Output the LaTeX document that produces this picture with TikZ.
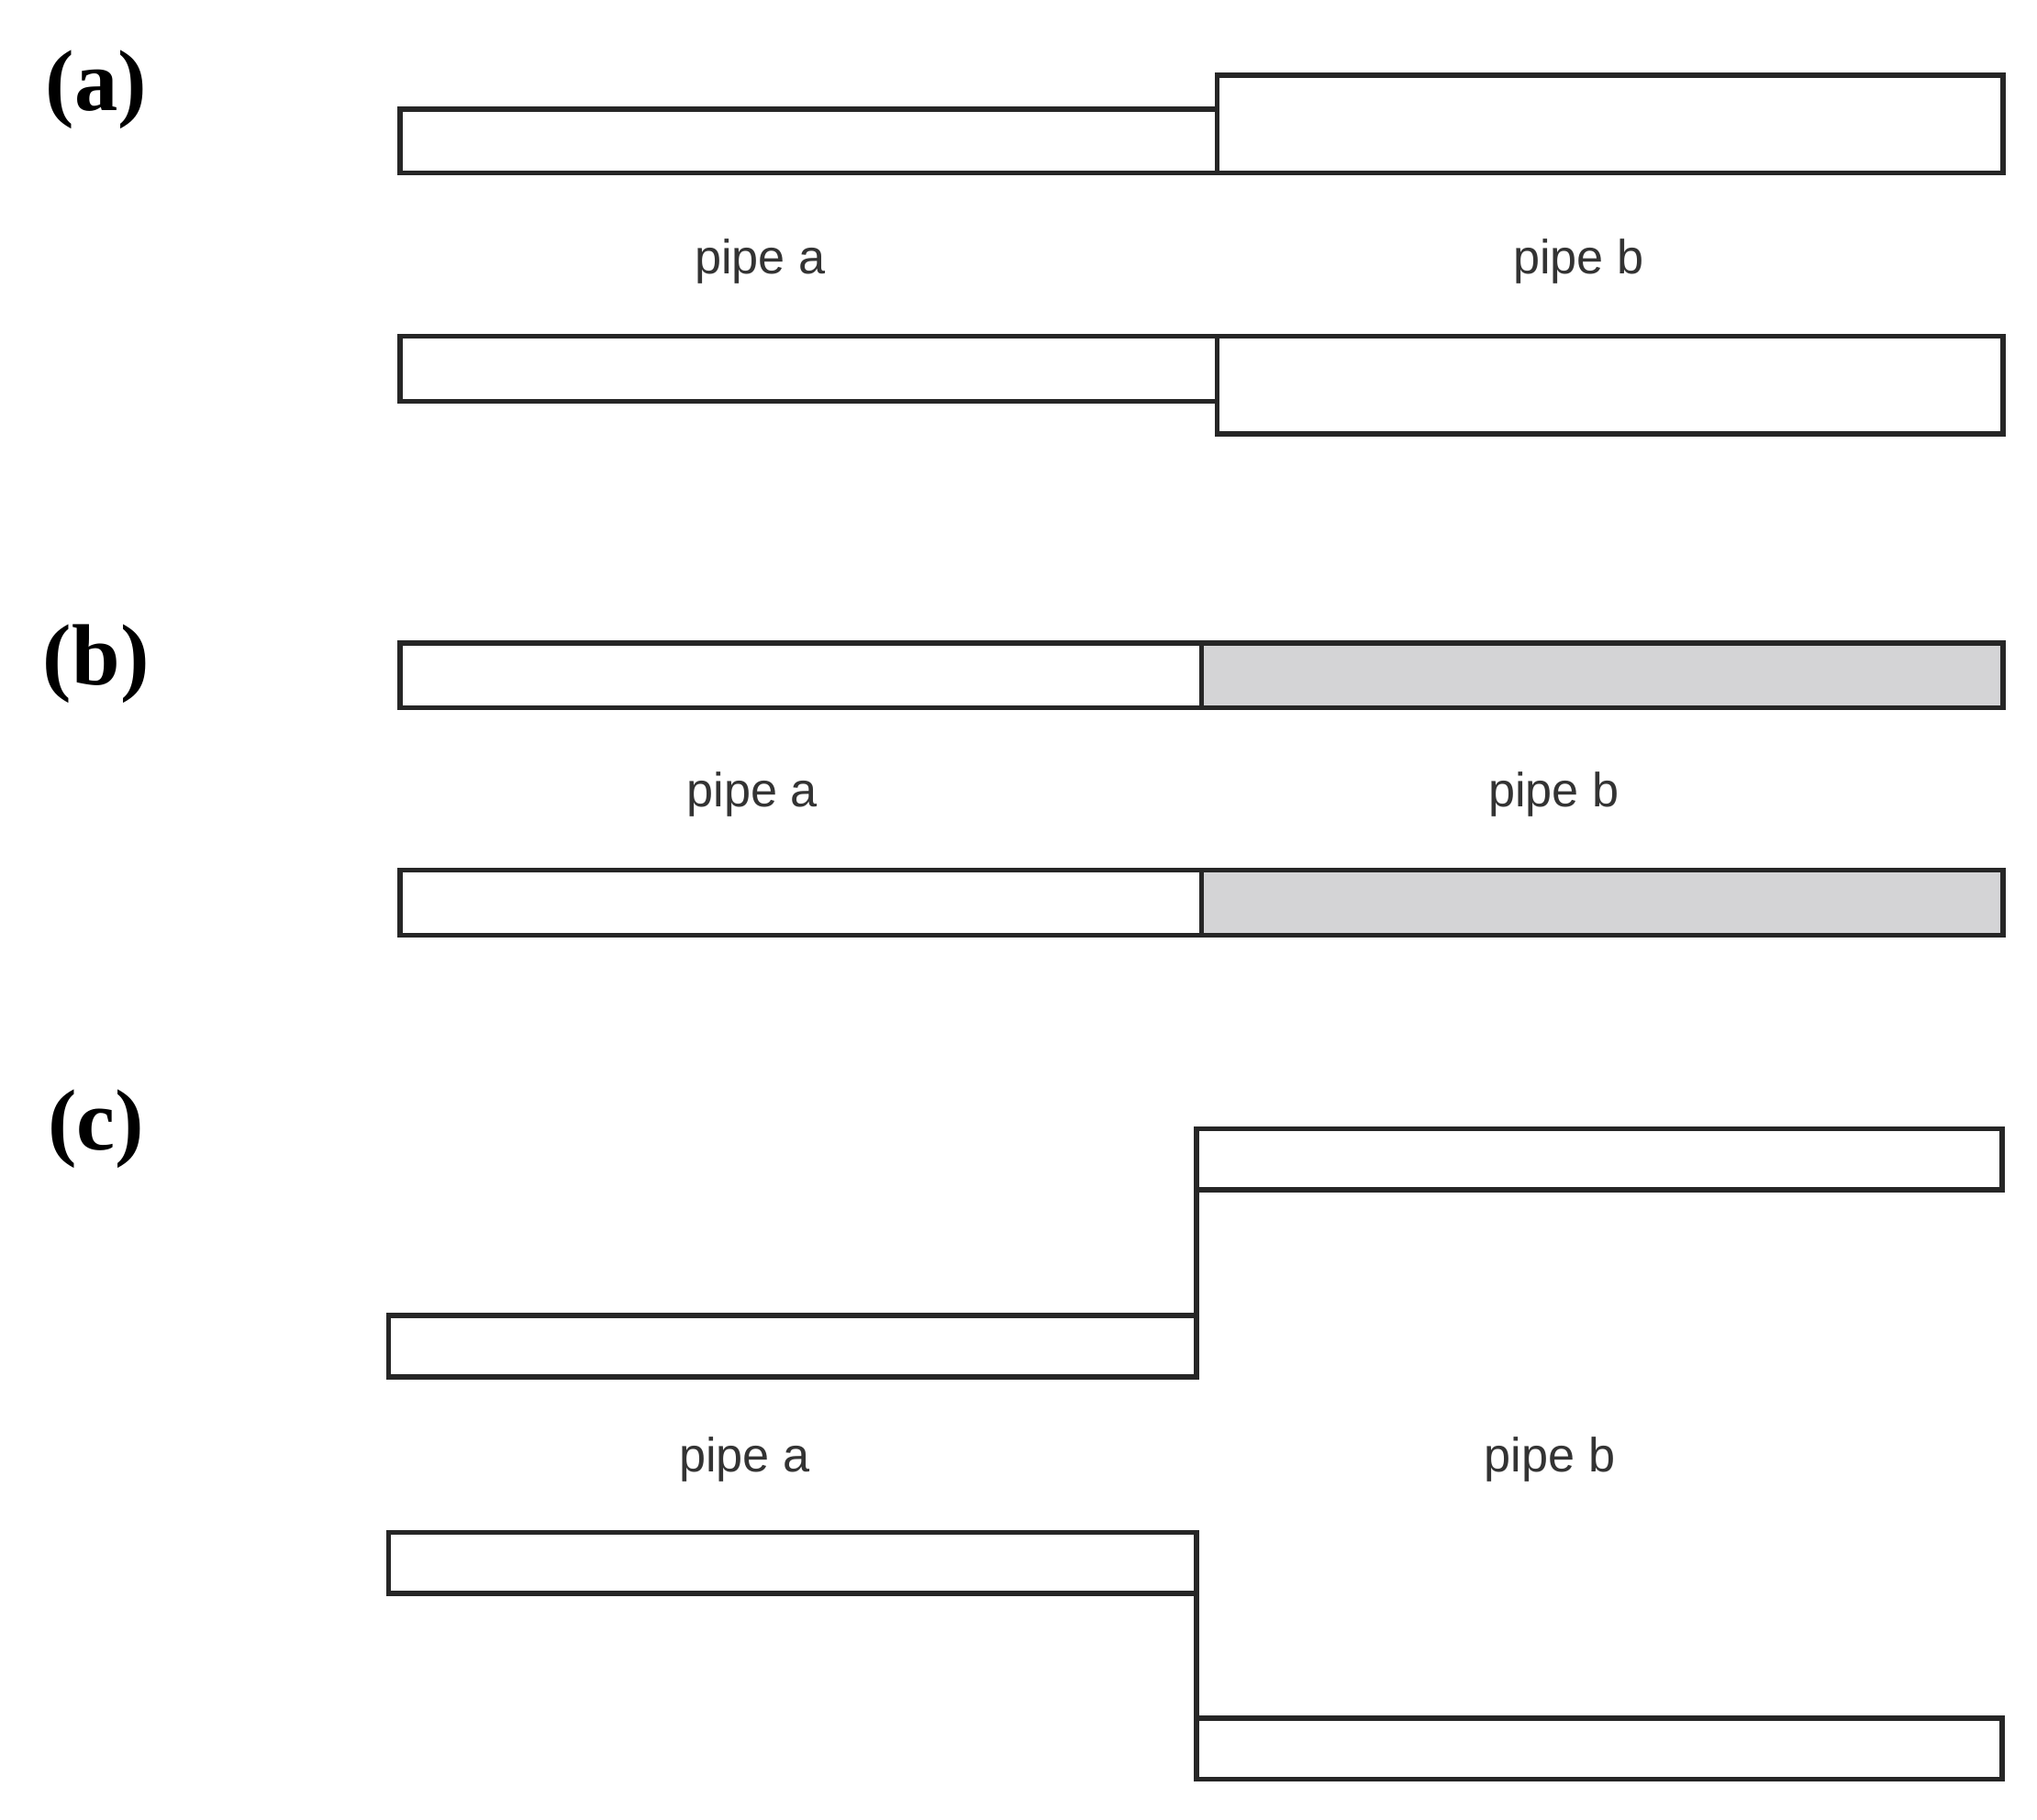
\documentclass[tikz,border=0pt]{standalone}
\usepackage{fontspec}
\setmainfont{Liberation Serif}
\newfontfamily\pipefont{Liberation Sans}
\definecolor{wallgray}{RGB}{212,212,214}
\tikzset{
  wall/.style={draw=black!85, line width=1.1pt, fill=white},
  graywall/.style={wall, fill=wallgray},
  pipelabel/.style={font=\pipefont\fontsize{10.5}{12}\selectfont, text=black!80},
  panel/.style={font=\bfseries\fontsize{19}{22}\selectfont}
}
\begin{document}
\begin{tikzpicture}[x=1cm,y=-1cm]
        \useasboundingbox (0,0) rectangle (15.68,14.01);
        % (a) sudden enlargement
        \node[panel] (la) at (0.74,0.69) {(a)};
        \draw[wall] (3.08,0.84) rectangle (9.37,1.33);
        \draw[wall] (9.37,0.58) rectangle (15.42,1.33);
        \draw[wall] (3.08,2.59) rectangle (9.37,3.09);
        \draw[wall] (9.37,2.59) rectangle (15.42,3.34);
        \node[pipelabel] (aa) at (5.85,2.01) {pipe a};
        \node[pipelabel] (ab) at (12.15,2.01) {pipe b};
        % (b) change of wall material
        \node[panel] (lb) at (0.74,5.11) {(b)};
        \draw[wall] (3.08,4.95) rectangle (9.25,5.45);
        \draw[graywall] (9.25,4.95) rectangle (15.42,5.45);
        \draw[wall] (3.08,6.70) rectangle (9.25,7.20);
        \draw[graywall] (9.25,6.70) rectangle (15.42,7.20);
        \node[pipelabel] (ba) at (5.79,6.12) {pipe a};
        \node[pipelabel] (bb) at (11.96,6.12) {pipe b};
        % (c) abrupt expansion
        \node[panel] (lc) at (0.74,8.69) {(c)};
        \draw[wall] (2.99,10.13) rectangle (9.21,10.60);
        \draw[wall] (9.21,8.69) rectangle (15.41,9.16);
        \draw[wall] (9.21,9.16) -- (9.21,10.13);
        \draw[wall] (2.99,11.80) rectangle (9.21,12.27);
        \draw[wall] (9.21,13.23) rectangle (15.41,13.70);
        \draw[wall] (9.21,12.27) -- (9.21,13.23);
        \node[pipelabel] (ca) at (5.73,11.24) {pipe a};
        \node[pipelabel] (cb) at (11.93,11.24) {pipe b};
\end{tikzpicture}
\end{document}
